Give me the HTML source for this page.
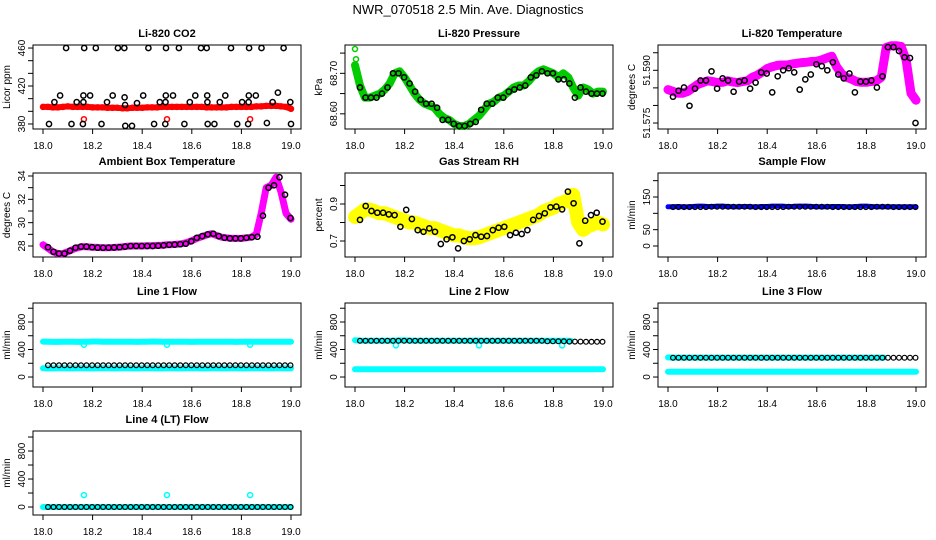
<!DOCTYPE html>
<html><head><meta charset="utf-8"><title>NWR_070518 Diagnostics</title>
<style>
html,body{margin:0;padding:0;background:#fff;}
svg{display:block;}
text{font-family:"Liberation Sans",Arial,sans-serif;fill:#000;}
</style></head>
<body>
<svg id="chart" width="936" height="540" viewBox="0 0 936 540" xmlns="http://www.w3.org/2000/svg">
<text x="468" y="14" font-size="13" text-anchor="middle">NWR_070518  2.5 Min. Ave. Diagnostics</text>
</svg>
<script>
// ---- data arrays ----
const xTicks = [18.0, 18.2, 18.4, 18.6, 18.8, 19.0];
const xTickLabels = ["18.0", "18.2", "18.4", "18.6", "18.8", "19.0"];

const co2BlackTime = [18.024,18.046,18.069,18.093,18.115,18.136,18.161,18.163,18.163,18.166,18.19,18.213,18.236,18.258,18.281,18.302,18.328,18.329,18.331,18.332,18.359,18.379,18.404,18.425,18.448,18.471,18.494,18.495,18.496,18.493,18.524,18.548,18.57,18.592,18.614,18.637,18.66,18.662,18.663,18.664,18.691,18.713,18.735,18.758,18.783,18.803,18.827,18.829,18.83,18.831,18.858,18.881,18.903,18.926,18.947,18.97,18.997,19.0];
const co2BlackVals = [380,403,410,460,380,403,380,403,410,460,410,460,380,403,410,460,460,408,400,378,378,402,410,460,380,403,403,410,460,380,410,460,380,403,410,460,460,410,403,380,380,403,410,460,380,403,380,403,410,460,410,460,381,403,413,460,403,380];
const co2Red = [398,398,397.5,397.5,398,398.5,398,398,398,398,397.5,397.5,397.5,397,397,397,396.5,396.5,397,397,397,397.5,397.5,397.5,398,398,398,398,398,398,398,398,398,397.5,397.5,397.5,397.5,397.5,398,398,398,398,398,398.5,398.5,399,399,399,398.5,398,396];
const co2RedOutTime = [18.165, 18.5, 18.835];
const co2RedOutVals = [385, 385, 385];

const pressGreen = [68.72,68.67,68.64,68.64,68.645,68.65,68.66,68.675,68.70,68.705,68.69,68.67,68.65,68.635,68.625,68.62,68.615,68.60,68.59,68.585,68.575,68.57,68.57,68.575,68.585,68.595,68.61,68.625,68.63,68.64,68.645,68.655,68.665,68.67,68.67,68.68,68.695,68.705,68.71,68.705,68.70,68.69,68.70,68.69,68.665,68.645,68.665,68.66,68.65,68.655,68.655];
const pressGreenOutTime = [18.0, 18.004, 18.008];
const pressGreenOutVals = [68.76, 68.735, 68.705];
const pressBlack = [68.665,68.64,68.64,68.64,68.65,68.665,68.70,68.70,68.69,68.675,68.655,68.635,68.625,68.625,68.615,68.585,68.585,68.575,68.57,68.57,68.575,68.58,68.61,68.625,68.625,68.64,68.64,68.655,68.66,68.665,68.67,68.69,68.695,68.705,68.70,68.70,68.685,68.685,68.675,68.64,68.665,68.655,68.65,68.65,68.65];

const tempMagenta = [51.5845,51.584,51.5835,51.5835,51.584,51.585,51.586,51.5865,51.587,51.5868,51.5865,51.5866,51.587,51.5867,51.5865,51.5868,51.587,51.588,51.5886,51.5895,51.5905,51.591,51.5914,51.5915,51.5915,51.5918,51.592,51.5922,51.5923,51.5925,51.5926,51.593,51.5935,51.594,51.591,51.589,51.588,51.5875,51.5868,51.5866,51.5866,51.5868,51.587,51.588,51.5965,51.597,51.597,51.5968,51.593,51.5835,51.5815];
const tempBlack = [51.5825,51.5842,51.5851,51.5799,51.5848,51.5871,51.5871,51.5897,51.5848,51.5877,51.5871,51.5839,51.5868,51.5871,51.5848,51.5865,51.5894,51.5891,51.5837,51.5883,51.59,51.5906,51.5894,51.5845,51.5874,51.5888,51.5917,51.5912,51.59,51.5923,51.5888,51.5877,51.5891,51.5837,51.5868,51.5868,51.5871,51.5851,51.5883,51.5966,51.5966,51.5955,51.5937,51.5935,51.575];

const ambMagenta = [28.1,27.8,27.5,27.35,27.35,27.5,27.7,27.85,27.95,27.92,27.9,27.88,27.85,27.85,27.87,27.9,27.92,27.97,28.0,28.0,28.0,28.02,28.02,28.05,28.07,28.1,28.12,28.15,28.2,28.3,28.45,28.65,28.8,28.95,29.05,28.9,28.75,28.7,28.65,28.65,28.65,28.7,28.75,29.0,30.8,33.0,33.2,33.9,32.6,30.8,30.3];
const ambBlack = [27.9,27.5,27.35,27.35,27.6,27.85,27.95,27.95,27.9,27.85,27.85,27.85,27.87,27.9,27.95,28.0,28.0,28.0,28.0,28.0,28.02,28.05,28.1,28.12,28.15,28.2,28.4,28.7,28.85,29.0,29.05,28.85,28.7,28.65,28.65,28.65,28.7,28.75,28.8,30.6,33.0,33.2,33.9,32.4,30.4];

const rhYellow = [0.83,0.85,0.87,0.87,0.86,0.85,0.85,0.84,0.83,0.82,0.81,0.80,0.80,0.79,0.78,0.77,0.77,0.76,0.75,0.74,0.73,0.73,0.72,0.715,0.715,0.72,0.73,0.74,0.75,0.76,0.77,0.78,0.79,0.80,0.81,0.82,0.83,0.84,0.86,0.87,0.88,0.90,0.91,0.92,0.95,0.80,0.76,0.78,0.79,0.80,0.79];
const rhBlack = [0.814,0.889,0.862,0.853,0.853,0.844,0.84,0.777,0.868,0.819,0.759,0.75,0.768,0.75,0.684,0.709,0.72,0.66,0.70,0.709,0.732,0.723,0.727,0.759,0.772,0.777,0.732,0.745,0.738,0.759,0.814,0.835,0.85,0.882,0.886,0.871,0.967,0.904,0.687,0.81,0.84,0.853,0.805];

const sampleBlue = [120,120,121,120,120,121,122,122,121,121,122,122,121,120,120,121,121,120,120,121,121,122,122,122,121,121,122,122,122,121,120,120,120,121,121,121,120,120,121,122,122,121,120,120,120,120,120,120,120,120,120];
const sampleBlack = [119,119,119,119,119,119,119,120,120,120,120,120,120,120,120,119,119,119,119,119,119,120,120,120,120,120,120,120,120,119,119,119,119,119,119,119,119,120,120,120,119,119,119,119,119];

const line1CyanUpper = [515,512,510,510,512,514,512,510,512,514,516,516,514,512,512,512,514,514,512,510,512,514,516,515,514,512,512,514,514,512,510,512,514,512,512,514,514,512,512,510,512,514,514,512,512,512,514,514,512,512,512];
const line1CyanLower = [128,126,126,128,128,126,126,128,128,126,126,128,128,128,126,126,128,128,126,126,128,128,128,126,126,128,128,126,126,128,128,128,126,126,128,128,126,126,128,128,126,126,128,128,128,126,126,128,128,126,126];
const line1Black = [171,171,171,171,171,171,171,171,171,171,171,171,171,171,171,171,171,171,171,171,171,171,171,171,171,171,171,171,171,171,171,171,171,171,171,171,171,171,171,171,171,171,171,171,171];
const line1OutTime = [18.165, 18.5, 18.835];
const line1OutVals = [470, 470, 470];

const line2CyanUpper = [535,530,528,528,528,528,528,528,530,532,532,530,528,528,528,528,528,528,528,528,528,528,528,528,530,530,528,528,528,528,528,528,526,526,526,526,526,526,526,526,526,526,526,526];
const line2CyanLower = [112,112,112,112,112,112,112,112,112,113,113,112,112,112,112,112,112,112,112,112,112,112,112,112,113,113,112,112,112,112,112,112,112,112,112,113,112,112,112,112,112,112,112,112,112,112,112,112,112,112,112];
const line2Black = [527,527,527,527,527,527,527,527,527,527,527,527,527,527,527,527,527,527,527,527,527,527,527,527,527,527,527,527,527,527,527,527,527,527,520,520,520,520,515,515,515,512,512,512,512];
const line2OutTime = [18.165, 18.5, 18.835];
const line2OutVals = [460, 460, 460];

const line3CyanUpper = [285,282,282,282,282,282,282,282,282,282,282,282,282,282,282,282,282,282,282,282,282,282,282,282,282,282,282,282,282,282,282,282,282,282,282,282,282,282,282,282,282,282,282,282];
const line3CyanLower = [78,78,77,77,77,77,77,77,77,77,77,77,77,77,77,77,77,77,77,77,77,77,77,77,77,77,77,77,77,77,77,77,77,77,77,77,77,77,77,77,77,77,77,77,77,77,77,77,77,77,77];
const line3Black = [281,281,281,281,281,281,281,281,281,281,281,281,281,281,281,281,281,281,281,281,281,281,281,281,281,281,281,281,281,281,281,281,281,281,281,281,281,281,281,281,281,281,281,281,281];

const line4Cyan = [0,0,0,0,0,0,0,0,0,0,0,0,0,0,0,0,0,0,0,0,0,0,0,0,0,0,0,0,0,0,0,0,0,0,0,0,0,0,0,0,0,0,0,0,0,0,0,0,0,0,0];
const line4Black = [0,0,0,0,0,0,0,0,0,0,0,0,0,0,0,0,0,0,0,0,0,0,0,0,0,0,0,0,0,0,0,0,0,0,0,0,0,0,0,0,0,0,0,0,0];
const line4OutTime = [18.165, 18.5, 18.835];
const line4OutVals = [170, 170, 170];

// ---- layout ----
const svg = document.getElementById('chart');
const NS = 'http://www.w3.org/2000/svg';
const colLeft = [33, 345, 658];
const rowTop = [45, 173, 303, 431];
const boxW = 268, boxH = 84;

function mk(tag, attrs) {
  const e = document.createElementNS(NS, tag);
  for (const k in attrs) e.setAttribute(k, attrs[k]);
  return e;
}
function uniformTimes(n) { const a = []; for (let i = 0; i < n; i++) a.push(18.0 + i / (n - 1)); return a; }
function blackTimes(n) { const a = []; for (let i = 0; i < n; i++) a.push(18.02 + i * 0.978 / (n - 1)); return a; }

function makePanel(name, col, row, title, ylab, ylim, yTicks, yLabels) {
  const g = mk('g', {});
  
  
  svg.appendChild(g);
  const L = colLeft[col], T = rowTop[row], B = T + boxH, R = L + boxW;
  const xs = t => L + 10 + (t - 18.0) * 248;
  const ys = v => B - (v - ylim[0]) / (ylim[1] - ylim[0]) * boxH;
  const p = { g, L, T, B, R, xs, ys };
  const tt = mk('text', { x: (L + R) / 2, y: T - 8, 'font-size': 11, 'font-weight': 'bold', 'text-anchor': 'middle' });
  
  
  tt.textContent = title; g.appendChild(tt);
  const box = mk('rect', { x: L, y: T, width: boxW, height: boxH, fill: 'none', stroke: '#000', 'stroke-width': 1 });
  
  
  g.appendChild(box);
  xTicks.forEach((t, i) => {
    const x = xs(t);
    const tk = mk('line', { x1: x, x2: x, y1: B, y2: B + 5, stroke: '#000' });
    
    
    g.appendChild(tk);
    const lb = mk('text', { x: x, y: B + 20, 'font-size': 10, 'text-anchor': 'middle' });
    
    
    lb.textContent = xTickLabels[i]; g.appendChild(lb);
  });
  yTicks.forEach(v => {
    const y = ys(v);
    if (y < T - 0.5 || y > B + 0.5) return;
    const tk = mk('line', { x1: L - 5, x2: L, y1: y, y2: y, stroke: '#000' });
    
    
    g.appendChild(tk);
  });
  yLabels.forEach(s => {
    const y = ys(Number(s));
    const lb = mk('text', { x: 0, y: 0, 'font-size': 10, 'text-anchor': 'middle', transform: `translate(${L - 8},${y}) rotate(-90)` });
    
    
    lb.textContent = s; g.appendChild(lb);
  });
  const yl = mk('text', { x: 0, y: 0, 'font-size': 10, 'text-anchor': 'middle', transform: `translate(${L - 23},${(T + B) / 2}) rotate(-90)` });
  
  
  yl.textContent = ylab; g.appendChild(yl);
  return p;
}

function band(p, times, vals, color, w, name) {
  const pts = times.map((t, i) => p.xs(t).toFixed(1) + ',' + p.ys(vals[i]).toFixed(1)).join(' ');
  const pl = mk('polyline', { points: pts, fill: 'none', stroke: color, 'stroke-width': w, 'stroke-linejoin': 'round', 'stroke-linecap': 'round' });
  
  
  p.g.appendChild(pl);
}
function points(p, times, vals, color, r, sw, name) {
  vals.forEach((v, i) => {
    const c = mk('circle', { cx: p.xs(times[i]).toFixed(1), cy: p.ys(v).toFixed(1), r: r, fill: 'none', stroke: color, 'stroke-width': sw });
    
    
    p.g.appendChild(c);
  });
}

// CO2
let p = makePanel('co2-panel', 0, 0, 'Li-820 CO2', 'Licor ppm', [374.7, 463.2],
  [380, 393.33, 406.67, 420, 433.33, 446.67, 460], ['380', '420', '460']);
band(p, uniformTimes(co2Red.length), co2Red, '#ff0000', 6, 'co2-red-band');
points(p, uniformTimes(co2Red.length), co2Red, '#ff0000', 2.5, 1.5, 'co2-red-point');
points(p, co2RedOutTime, co2RedOutVals, '#ff0000', 2.5, 1.5, 'co2-red-outlier');
points(p, co2BlackTime, co2BlackVals, '#000', 2.6, 1.5, 'co2-black-point');

// Pressure
p = makePanel('pressure-panel', 1, 0, 'Li-820 Pressure', 'kPa', [68.5625, 68.77],
  [68.55, 68.60, 68.65, 68.70, 68.75], ['68.60', '68.70']);
band(p, uniformTimes(pressGreen.length), pressGreen, '#00cc00', 8, 'pressure-green-band');
points(p, uniformTimes(pressGreen.length), pressGreen, '#00cc00', 2.5, 1.5, 'pressure-green-point');
points(p, pressGreenOutTime, pressGreenOutVals, '#00cc00', 2.5, 1.5, 'pressure-green-outlier');
points(p, blackTimes(pressBlack.length), pressBlack, '#000', 2.6, 1.5, 'pressure-black-point');

// Temperature
p = makePanel('temperature-panel', 2, 0, 'Li-820 Temperature', 'degrees C', [51.5733, 51.5972],
  [51.575, 51.58, 51.585, 51.59, 51.595], ['51.575', '51.590']);
band(p, uniformTimes(tempMagenta.length), tempMagenta, '#ff00ff', 9, 'temperature-magenta-band');
points(p, uniformTimes(tempMagenta.length), tempMagenta, '#ff00ff', 2.5, 1.5, 'temperature-magenta-point');
points(p, blackTimes(tempBlack.length), tempBlack, '#000', 2.6, 1.5, 'temperature-black-point');

// Ambient
p = makePanel('ambient-panel', 0, 1, 'Ambient Box Temperature', 'degrees C', [27.057, 34.257],
  [28, 29, 30, 31, 32, 33, 34], ['28', '30', '32', '34']);
band(p, uniformTimes(ambMagenta.length), ambMagenta, '#ff00ff', 7, 'ambient-magenta-band');
points(p, blackTimes(ambBlack.length), ambBlack, '#000', 2.6, 1.5, 'ambient-black-point');

// RH
p = makePanel('rh-panel', 1, 1, 'Gas Stream RH', 'percent', [0.6135, 1.0676],
  [0.6, 0.7, 0.8, 0.9, 1.0], ['0.7', '0.9']);
band(p, uniformTimes(rhYellow.length), rhYellow, '#ffff00', 14, 'rh-yellow-band');
points(p, uniformTimes(rhYellow.length), rhYellow, '#ffff00', 2.5, 1.5, 'rh-yellow-point');
points(p, blackTimes(rhBlack.length), rhBlack, '#000', 2.6, 1.5, 'rh-black-point');

// Sample flow
p = makePanel('sample-flow-panel', 2, 1, 'Sample Flow', 'ml/min', [-33.7, 223.5],
  [0, 50, 100, 150, 200], ['0', '50', '150']);
band(p, uniformTimes(sampleBlue.length), sampleBlue, '#0000ff', 5, 'sample-blue-band');
points(p, blackTimes(sampleBlack.length), sampleBlack, '#000', 2.4, 1.2, 'sample-black-point');

// Line flows
const flowLim = [-145, 1076];
const flowTicks = [0, 200, 400, 600, 800, 1000];
const flowLabels = ['0', '400', '800'];

p = makePanel('line1-flow-panel', 0, 2, 'Line 1 Flow', 'ml/min', flowLim, flowTicks, flowLabels);
band(p, uniformTimes(line1CyanUpper.length), line1CyanUpper, '#00ffff', 6, 'line1-cyan-upper');
band(p, uniformTimes(line1CyanLower.length), line1CyanLower, '#00ffff', 6, 'line1-cyan-lower');
points(p, line1OutTime, line1OutVals, '#00ffff', 2.5, 1.5, 'line1-cyan-outlier');
points(p, blackTimes(line1Black.length), line1Black, '#000', 2.4, 1.2, 'line1-black-point');

p = makePanel('line2-flow-panel', 1, 2, 'Line 2 Flow', 'ml/min', flowLim, flowTicks, flowLabels);
band(p, uniformTimes(line2CyanLower.length), line2CyanLower, '#00ffff', 6, 'line2-cyan-lower');
const l2t = line2CyanUpper.map((v, i) => 18.0 + i * 0.87 / (line2CyanUpper.length - 1));
band(p, l2t, line2CyanUpper, '#00ffff', 6, 'line2-cyan-upper');
points(p, line2OutTime, line2OutVals, '#00ffff', 2.5, 1.5, 'line2-cyan-outlier');
points(p, blackTimes(line2Black.length), line2Black, '#000', 2.4, 1.2, 'line2-black-point');

p = makePanel('line3-flow-panel', 2, 2, 'Line 3 Flow', 'ml/min', flowLim, flowTicks, flowLabels);
band(p, uniformTimes(line3CyanLower.length), line3CyanLower, '#00ffff', 6, 'line3-cyan-lower');
const l3t = line3CyanUpper.map((v, i) => 18.0 + i * 0.87 / (line3CyanUpper.length - 1));
band(p, l3t, line3CyanUpper, '#00ffff', 6, 'line3-cyan-upper');
points(p, blackTimes(line3Black.length), line3Black, '#000', 2.4, 1.2, 'line3-black-point');

p = makePanel('line4-flow-panel', 0, 3, 'Line 4 (LT) Flow', 'ml/min', [-114, 1086], flowTicks, flowLabels);
band(p, uniformTimes(line4Cyan.length), line4Cyan, '#00ffff', 6, 'line4-cyan-band');
points(p, line4OutTime, line4OutVals, '#00ffff', 2.5, 1.5, 'line4-cyan-outlier');
points(p, blackTimes(line4Black.length), line4Black, '#000', 2.4, 1.2, 'line4-black-point');
</script>
</body></html>
